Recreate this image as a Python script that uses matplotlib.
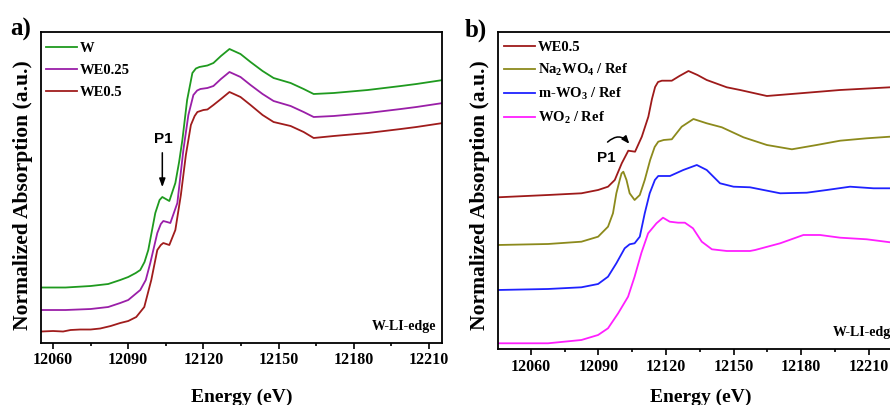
import numpy as np
import matplotlib
matplotlib.use("Agg")
import matplotlib.pyplot as plt
from matplotlib.ticker import MultipleLocator

plt.rcParams['font.family'] = ['Liberation Serif', 'DejaVu Serif']
plt.rcParams['font.weight'] = 'bold'
plt.rcParams['mathtext.fontset'] = 'custom'
plt.rcParams['mathtext.rm'] = 'Liberation Serif:bold'
plt.rcParams['mathtext.bf'] = 'Liberation Serif:bold'
plt.rcParams['mathtext.it'] = 'Liberation Serif:bold'
plt.rcParams['mathtext.default'] = 'bf'

# ---- panel a: W L1-edge XANES, shifted vertically ----
e_w = [12055.2, 12065, 12075, 12082, 12086.8, 12090, 12093, 12094.8, 12096.5, 12098, 12100.8, 12102.5,
       12103.6, 12105, 12106.4, 12108.8, 12110.3, 12111.6, 12113.5, 12115.6, 12117, 12118.4, 12121.6, 12124,
       12127, 12130.4, 12134.8, 12138.8, 12143.6, 12148, 12154.8, 12160, 12164, 12172,
       12185.6, 12198.8, 12205, 12215.6]
mu_w = [0.545, 0.545, 0.56, 0.58, 0.62, 0.65, 0.69, 0.72, 0.80, 0.92, 1.29, 1.42,
        1.45, 1.43, 1.41, 1.59, 1.80, 2.02, 2.42, 2.69, 2.735, 2.75, 2.765, 2.79,
        2.86, 2.93, 2.88, 2.80, 2.71, 2.64, 2.59, 2.53, 2.48, 2.49,
        2.52, 2.56, 2.58, 2.62]

e_we025 = [12055.2, 12065, 12075, 12082, 12086.8, 12090, 12094.8, 12097, 12098.8, 12101.6, 12103,
           12104, 12105.5, 12106.8, 12109.6, 12112, 12114, 12116, 12117.5, 12118.8, 12121.6, 12124,
           12127, 12130.4, 12134.8, 12138.8, 12143.6, 12148, 12154.8, 12160, 12164, 12172,
           12185.6, 12198.8, 12205, 12215.6]
mu_we025 = [0.32, 0.32, 0.33, 0.35, 0.39, 0.42, 0.52, 0.62, 0.79, 1.09, 1.18,
            1.21, 1.20, 1.19, 1.39, 1.92, 2.27, 2.47, 2.515, 2.53, 2.54, 2.56,
            2.63, 2.70, 2.65, 2.57, 2.48, 2.41, 2.36, 2.30, 2.25, 2.26,
            2.29, 2.33, 2.35, 2.39]

e_we05 = [12055.2, 12060, 12064, 12067, 12070.8, 12075, 12078.8, 12083, 12086.8, 12090,
          12093.2, 12096.4, 12099.2, 12101.6, 12103, 12104, 12105.2, 12106.4, 12108.8, 12111,
          12113, 12115, 12116.5, 12117.6, 12120, 12121.6, 12124, 12127, 12130.4, 12134.8, 12138.8,
          12143.6, 12148, 12154.8, 12160, 12164, 12172, 12185.6, 12198.8, 12205, 12215.6]
mu_we05 = [0.105, 0.11, 0.105, 0.12, 0.125, 0.125, 0.135, 0.16, 0.19, 0.21,
           0.25, 0.35, 0.62, 0.92, 0.97, 0.99, 0.98, 0.97, 1.12, 1.47,
           1.87, 2.17, 2.26, 2.30, 2.32, 2.325, 2.37, 2.43, 2.50, 2.45, 2.37,
           2.27, 2.20, 2.16, 2.10, 2.04, 2.06, 2.09, 2.13, 2.15, 2.19]

# ---- panel b: WE0.5 against references ----
e_b_we05 = [12045.5, 12067.7, 12082.5, 12089.9, 12094.3, 12097.3, 12100.4, 12103.3, 12106.3, 12109.3,
            12112.2, 12113.8, 12115.2, 12116.5, 12118.2, 12122.6, 12126, 12130.0, 12134, 12138.1, 12147.0,
            12152.9, 12164.8, 12179.5, 12197.3, 12219.5, 12225.2]
mu_b_we05 = [1.517, 1.54, 1.557, 1.59, 1.623, 1.69, 1.857, 1.983, 1.973, 2.123,
             2.323, 2.50, 2.62, 2.67, 2.683, 2.683, 2.73, 2.78, 2.74, 2.69, 2.617,
             2.59, 2.53, 2.557, 2.59, 2.617, 2.62]

e_na2wo4 = [12045.5, 12067.7, 12082.5, 12089.9, 12094.3, 12096.5, 12098.0, 12099.5, 12100.3, 12101.1,
            12102.5, 12103.9, 12106.1, 12108.4, 12110.6, 12113.0, 12115.0, 12116.6, 12119, 12122.6,
            12127.0, 12132.2, 12138.1, 12144.8, 12154.4, 12164.8, 12175.9, 12186.9, 12197.3, 12209.1,
            12219.5, 12225.2]
mu_na2wo4 = [1.04, 1.05, 1.073, 1.123, 1.223, 1.357, 1.557, 1.69, 1.755, 1.773,
             1.69, 1.557, 1.49, 1.54, 1.69, 1.89, 2.02, 2.073, 2.09, 2.097,
             2.223, 2.30, 2.257, 2.217, 2.117, 2.04, 1.997, 2.04, 2.083, 2.107,
             2.123, 2.125]

e_wo3 = [12045.5, 12067.7, 12082.5, 12089.9, 12094.3, 12098.0, 12101.7, 12103.9, 12106.1, 12108.4,
         12110.6, 12112.8, 12115.1, 12116.6, 12121.8, 12127.7, 12133.7, 12138.1, 12144.0, 12150.0,
         12157.3, 12170.7, 12182.5, 12191.4, 12201.7, 12212.1, 12219.5, 12225.2]
mu_wo3 = [0.59, 0.60, 0.617, 0.65, 0.723, 0.857, 1.007, 1.047, 1.057, 1.123,
          1.357, 1.557, 1.69, 1.73, 1.73, 1.79, 1.84, 1.79, 1.657, 1.623,
          1.617, 1.557, 1.563, 1.59, 1.623, 1.607, 1.607, 1.607]

e_wo2 = [12045.5, 12067.7, 12082.5, 12089.9, 12094.3, 12098.8, 12103.2, 12106.1, 12109.1, 12112.1,
         12115.8, 12118.7, 12121.7, 12125.4, 12128.4, 12132.0, 12135.9, 12140.4, 12147.0, 12157.3,
         12159.6, 12170.7, 12181.0, 12188.4, 12197.3, 12209.1, 12219.5, 12225.2]
mu_wo2 = [0.057, 0.057, 0.09, 0.14, 0.207, 0.357, 0.523, 0.723, 0.96, 1.157,
          1.257, 1.313, 1.273, 1.263, 1.263, 1.207, 1.073, 0.997, 0.98, 0.98,
          0.99, 1.057, 1.14, 1.14, 1.113, 1.097, 1.067, 1.06]

xticks = [12060, 12090, 12120, 12150, 12180, 12210]

fig = plt.figure(figsize=(8.9, 4.05), dpi=100)
ax1 = fig.add_axes([0.0461, 0.1543, 0.4505, 0.7667])
ax2 = fig.add_axes([0.5596, 0.1383, 0.455, 0.7827])

lw = 1.3
ax1.plot(e_w, mu_w, color='#1f9a1f', lw=lw, label='W')
ax1.plot(e_we025, mu_we025, color='#9a1fa8', lw=lw, label='WE0.25')
ax1.plot(e_we05, mu_we05, color='#a01c1c', lw=lw, label='WE0.5')

ax2.plot(e_b_we05, mu_b_we05, color='#9e1a1a', lw=lw, label='WE0.5')
ax2.plot(e_na2wo4, mu_na2wo4, color='#8c8a1c', lw=lw, label='Na$_2$WO$_4$ / Ref')
ax2.plot(e_wo3, mu_wo3, color='#1f22ff', lw=lw, label='m-WO$_3$ / Ref')
ax2.plot(e_wo2, mu_wo2, color='#ff1fff', lw=lw, label='WO$_2$ / Ref')

ax1.set_xlim(12055.2, 12215.2)
ax1.set_ylim(-0.005, 3.10)
ax2.set_xlim(12045.5, 12225.2)
ax2.set_ylim(0, 3.17)

for ax, lp, ly in ((ax1, 15, 0.475), (ax2, 10, 0.486)):
    ax.set_xticks(xticks)
    ax.xaxis.set_minor_locator(MultipleLocator(15))
    ax.set_yticks([])
    ax.tick_params(axis='x', which='major', direction='out', length=4, width=1.2,
                   labelsize=11.5, pad=3)
    ax.tick_params(axis='x', which='minor', direction='out', length=2.5, width=1.2)
    for s in ax.spines.values():
        s.set_linewidth(1.3)
    for lab in ax.get_xticklabels():
        lab.set_fontweight('bold')
    ax.set_xlabel('Energy (eV)', fontsize=14, fontweight='bold', labelpad=lp)
    ax.set_ylabel('Normalized Absorption (a.u.)', fontsize=15.5, fontweight='bold')
    ax.yaxis.set_label_coords(-0.02, ly)
    ax.text(0.985, 0.03, 'W-LI-edge', transform=ax.transAxes, fontsize=10, fontweight='bold',
            ha='right', va='bottom')

ax1.legend(loc='upper left', bbox_to_anchor=(-0.012, 1.0), frameon=False, fontsize=10.5,
           handlelength=2.1, handletextpad=0.2, labelspacing=0.6, borderaxespad=0.2, borderpad=0.5)
ax2.legend(loc='upper left', bbox_to_anchor=(-0.006, 1.0), frameon=False, fontsize=10.5,
           handlelength=2.1, handletextpad=0.2, labelspacing=0.55, borderaxespad=0.2, borderpad=0.4)

# P1 markers
ax1.annotate('', xy=(12103.6, 1.52), xytext=(12103.6, 1.92),
             arrowprops=dict(arrowstyle='-|>,head_length=0.5,head_width=0.18', color='black', lw=1.1))
ax1.text(12104, 2.03, 'P1', fontsize=11, fontweight='bold', family='Liberation Sans',
         ha='center', va='center')
ax2.annotate('', xy=(12104.5, 2.03), xytext=(12093.2, 2.05),
             arrowprops=dict(arrowstyle='-|>,head_length=0.45,head_width=0.18', color='black', lw=1.1,
                             connectionstyle='arc3,rad=-0.6'))
ax2.text(12093.4, 1.91, 'P1', fontsize=11, fontweight='bold', family='Liberation Sans',
         ha='center', va='center')

fig.text(0.011, 0.913, 'a)', fontsize=18, fontweight='bold', va='baseline')
fig.text(0.5225, 0.909, 'b)', fontsize=18, fontweight='bold', va='baseline')

fig.savefig('out.png', dpi=100)
